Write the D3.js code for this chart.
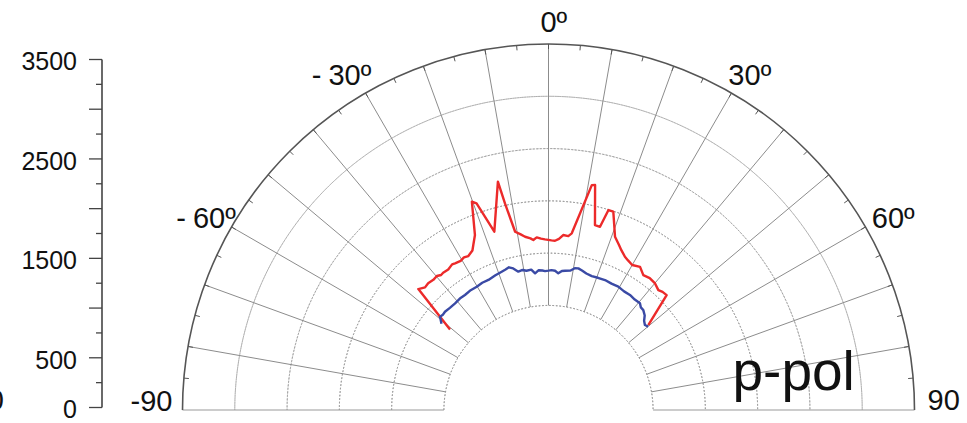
<!DOCTYPE html>
<html>
<head>
<meta charset="utf-8">
<script src="https://cdn.jsdelivr.net/npm/d3@7"></script>
<style>
  html, body { margin: 0; padding: 0; background: #fff; }
  svg { display: block; font-family: "Liberation Sans", Arial, sans-serif; }
</style>
</head>
<body>
<div id="chart"></div>
<script>
// polar data, angle in degrees (0 = normal), intensity in counts
var redAngles = [-50.7, -47.1, -45.2, -43.5, -41.5, -39.8, -38.5, -37.5, -35.5, -33.5, -32.5, -30.5, -29, -27.5, -25.5, -24.5,
  -22.8, -20.2, -19.2, -16.9, -12.5, -11.9, -10.6, -9, -7.7, -6, -5.1, -3.9, -2.5, -1.2, 1, 2.2, 3.5, 4.8, 6.5, 7.5,
  10.9, 11.7, 14.1, 15.7, 16.7, 18.1, 21, 23, 24.5, 26.5, 28, 30, 32.6, 35.1, 37.5, 40.1, 42.5, 44, 45.8, 49.6];
var redValues = [1217, 1699, 1664, 1672, 1662, 1668, 1650, 1655, 1651, 1670, 1663, 1655, 1668, 1660, 1690, 1734,
  1815, 2122, 2092, 1782, 2236, 2019, 1734, 1700, 1672, 1650, 1632, 1655, 1640, 1632, 1622, 1620, 1640, 1679, 1674, 1704,
  2190, 2197, 1824, 1820, 1996, 1995, 1775, 1720, 1680, 1638, 1620, 1601, 1625, 1577, 1590, 1582, 1555, 1570, 1576, 1253];

var blueAngles = [-51.1, -49.3, -48, -46.5, -44, -41.2, -38.5, -36, -33, -30.2, -27.5, -24.8, -21.5, -18.7, -17, -15.5,
  -14, -12.3, -10.5, -9, -7, -5.6, -4, -2.5, -1.4, 0, 1.2, 2.7, 4.1, 5.5, 6.8, 9, 10.5, 11.9, 13.5, 15.5, 17.9,
  20.5, 23.5, 26.5, 29.5, 32.5, 35.3, 38, 40.6, 42, 43.5, 45.5, 47, 48.6, 50.1];
var blueValues = [1315, 1368, 1360, 1365, 1358, 1356, 1362, 1359, 1366, 1364, 1372, 1370, 1385, 1396, 1405, 1416,
  1395, 1354, 1362, 1348, 1352, 1313, 1340, 1335, 1329, 1333, 1338, 1333, 1310, 1335, 1341, 1350, 1378, 1384, 1372, 1355, 1346,
  1350, 1355, 1350, 1355, 1345, 1348, 1340, 1344, 1320, 1317, 1290, 1250, 1229, 1243];

var ringValues = [1000, 1500, 2000, 2500, 3000];
var spokeAngles = d3.range(-80, 81, 10);
var minorTickAngles = d3.range(-85, 86, 5);
var angleLabelAngles = [0, -30, 30, -60, 60];

var leftTicks = d3.range(0, 3501, 250);
var leftLabels = [0, 500, 1500, 2500, 3500];

var width = 967, height = 423;
var cx = 548.5, cy = 410, R = 366;
var rMin = 1000, rMax = 3500;

var svg = d3.select('#chart').append('svg')
  .attr('width', width)
  .attr('height', height);

// radial scale: 0 at centre, 3500 on the outer ring; values below 1000 fall in the hole
var r = d3.scaleLinear().domain([0, rMax]).range([0, R]);
var rad = d => d * Math.PI / 180;
var px = (a, rr) => rr * Math.sin(rad(a));
var py = (a, rr) => -rr * Math.cos(rad(a));

var polar = svg.append('g').attr('transform', 'translate(' + cx + ',' + cy + ')');

// dotted rings
var arc = d3.arc().startAngle(-Math.PI / 2).endAngle(Math.PI / 2);
polar.selectAll('.ring')
  .data(ringValues)
  .enter().append('path')
  .attr('d', d => arc({innerRadius: r(d), outerRadius: r(d)}))
  .attr('fill', 'none')
  .attr('stroke', '#9a9a9a')
  .attr('stroke-width', 1)
  .attr('stroke-dasharray', '1.5,2');

// spokes
polar.selectAll('.spoke')
  .data(spokeAngles)
  .enter().append('line')
  .attr('x1', d => px(d, r(rMin))).attr('y1', d => py(d, r(rMin)))
  .attr('x2', d => px(d, r(rMax))).attr('y2', d => py(d, r(rMax)))
  .attr('stroke', '#8c8c8c')
  .attr('stroke-width', 1);

// baseline at +/-90
[-90, 90].forEach(function(a) {
  polar.append('line')
    .attr('x1', px(a, r(rMin))).attr('y1', 0)
    .attr('x2', px(a, r(rMax))).attr('y2', 0)
    .attr('stroke', '#9a9a9a')
    .attr('stroke-width', 1.2);
});

// outer ring
polar.append('path')
  .attr('d', arc({innerRadius: R, outerRadius: R}))
  .attr('fill', 'none')
  .attr('stroke', '#555')
  .attr('stroke-width', 1.6);

// minor ticks, inward
polar.selectAll('.mtick')
  .data(minorTickAngles)
  .enter().append('line')
  .attr('x1', d => px(d, R)).attr('y1', d => py(d, R))
  .attr('x2', d => px(d, R - 5)).attr('y2', d => py(d, R - 5))
  .attr('stroke', '#555')
  .attr('stroke-width', 1);

// data curves
var line = d3.lineRadial()
  .angle(d => rad(d[0]))
  .radius(d => r(d[1]));

polar.append('path')
  .datum(d3.zip(redAngles, redValues))
  .attr('d', line)
  .attr('fill', 'none')
  .attr('stroke', '#ec2a2a')
  .attr('stroke-width', 2.4)
  .attr('stroke-linejoin', 'round');

polar.append('path')
  .datum(d3.zip(blueAngles, blueValues))
  .attr('d', line)
  .attr('fill', 'none')
  .attr('stroke', '#3a4aa5')
  .attr('stroke-width', 2.4)
  .attr('stroke-linejoin', 'round');

// angle labels: digits centred on the direction, "º" after, "- " before negatives
angleLabelAngles.forEach(function(a) {
  var lx = px(a, R + 26) - (a === -30 ? 8 : 0), ly = py(a, R + 26) + 4;
  var num = polar.append('text')
    .attr('x', lx).attr('y', ly)
    .attr('dy', '0.35em')
    .attr('text-anchor', 'middle')
    .attr('font-size', 29)
    .attr('fill', '#111')
    .text(Math.abs(a));
  var w = num.node().getComputedTextLength();
  polar.append('text')
    .attr('x', lx + w / 2).attr('y', ly)
    .attr('dy', '0.35em')
    .attr('font-size', 29)
    .attr('fill', '#111')
    .text('º');
  if (a < 0) {
    polar.append('text')
      .attr('x', lx - w / 2 - 7).attr('y', ly)
      .attr('dy', '0.35em')
      .attr('text-anchor', 'end')
      .attr('font-size', 29)
      .attr('fill', '#111')
      .text('-');
  }
});

polar.append('text')
  .attr('x', px(-90, R) - 10).attr('y', 1)
  .attr('text-anchor', 'end')
  .attr('font-size', 29)
  .attr('fill', '#111')
  .text('-90');

polar.append('text')
  .attr('x', px(90, R) + 13).attr('y', 0)
  .attr('font-size', 29)
  .attr('fill', '#111')
  .text('90');

polar.append('text')
  .attr('x', 184).attr('y', -20)
  .attr('font-size', 55)
  .attr('fill', '#111')
  .text('p-pol');

// left intensity axis
var y = d3.scaleLinear().domain([0, 3500]).range([407.5, 59.5]);
var axisX = 102;
var ax = svg.append('g');
ax.append('line')
  .attr('x1', axisX).attr('x2', axisX)
  .attr('y1', y(0)).attr('y2', y(3500))
  .attr('stroke', '#444').attr('stroke-width', 1.6);
ax.selectAll('.lt')
  .data(leftTicks)
  .enter().append('line')
  .attr('x1', axisX)
  .attr('x2', d => axisX - (d % 500 === 0 ? 13 : 6))
  .attr('y1', d => y(d)).attr('y2', d => y(d))
  .attr('stroke', '#444').attr('stroke-width', 1.3);
ax.selectAll('.ll')
  .data(leftLabels)
  .enter().append('text')
  .attr('x', axisX - 25)
  .attr('y', d => y(d) + 2)
  .attr('dy', '0.35em')
  .attr('text-anchor', 'end')
  .attr('font-size', 25)
  .attr('fill', '#111')
  .text(d => d);

// clipped label of the neighbouring panel, as in the source figure
svg.append('text')
  .attr('x', 4).attr('y', 410)
  .attr('text-anchor', 'end')
  .attr('font-size', 29)
  .attr('fill', '#111')
  .text('90');
</script>
</body>
</html>
